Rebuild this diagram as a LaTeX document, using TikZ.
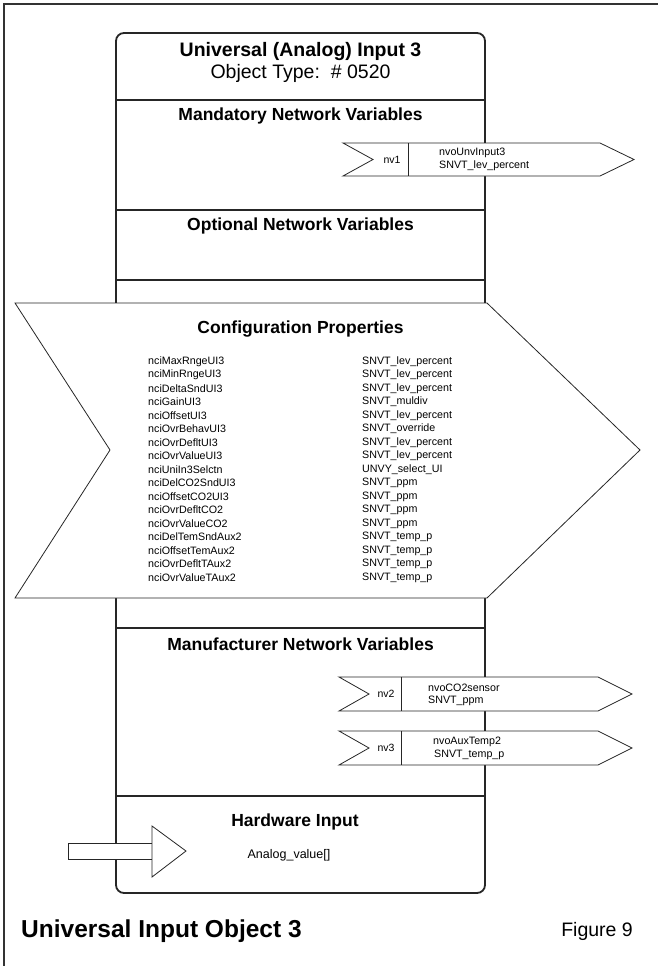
\documentclass[tikz,border=0pt]{standalone}
\usepackage{fontspec}
\setmainfont{Liberation Sans}
\begin{document}
\begin{tikzpicture}[x=1pt,y=-1pt,line join=miter]
\useasboundingbox (0,0) rectangle (658,966);
\tikzset{
  frameline/.style={draw=black!80, line width=1.8pt},
  boxline/.style={draw=black!85, line width=1.8pt},
  thinshape/.style={draw=black!85, line width=0.8pt, fill=white},
  titlefont/.style={font=\fontsize{19.5}{22}\selectfont\bfseries, inner sep=0},
  subfont/.style={font=\fontsize{19.5}{22}\selectfont, inner sep=0},
  sectitle/.style={font=\fontsize{17.5}{20}\selectfont\bfseries, inner sep=0},
  smalltext/.style={font=\fontsize{10.7}{12}\selectfont, inner sep=0, anchor=west},
  smallc/.style={font=\fontsize{10.5}{12}\selectfont, inner sep=0},
}
% outer frame
\draw[frameline] (4,966) -- (4,4) -- (658,4);
% main box
\draw[boxline, rounded corners=8pt] (116,33) rectangle (485,893);
\draw[boxline] (116,100) -- (485,100);
\draw[boxline] (116,210) -- (485,210);
\draw[boxline] (116,280) -- (485,280);
\draw[boxline] (116,628) -- (485,628);
\draw[boxline] (116,796) -- (485,796);

\node[titlefont] (title) at (300.5,52) {Universal (Analog) Input 3};
\node[subfont] (otype) at (300.5,73) {Object Type:\ \ \# 0520};

% mandatory
\node[sectitle] (mand) at (300.5,116) {Mandatory Network Variables};
\draw[thinshape] (343,143) -- (600,143) -- (634,159.5) -- (600,176) -- (343,176) -- (373,159.5) -- cycle;
\draw[thinshape] (408,143) -- (408,176);
\node[smallc] (nv1) at (392,159.5) {nv1};
\node[smalltext] (nv1a) at (439,152.5) {nvoUnvInput3};
\node[smalltext] (nv1b) at (439,165.5) {SNVT\_lev\_percent};

% optional
\node[sectitle] (opt) at (300.5,226) {Optional Network Variables};

% configuration
\draw[thinshape] (15,303) -- (487,303) -- (640,450) -- (487,598) -- (15,598) -- (110,450) -- cycle;
\node[sectitle] (conf) at (300.5,329) {Configuration Properties};
\foreach \a/\b [count=\i from 0] in {
  nciMaxRngeUI3/SNVT\_lev\_percent,
  nciMinRngeUI3/SNVT\_lev\_percent,
  nciDeltaSndUI3/SNVT\_lev\_percent,
  nciGainUI3/SNVT\_muldiv,
  nciOffsetUI3/SNVT\_lev\_percent,
  nciOvrBehavUI3/SNVT\_override,
  nciOvrDefltUI3/SNVT\_lev\_percent,
  nciOvrValueUI3/SNVT\_lev\_percent,
  nciUniIn3Selctn/UNVY\_select\_UI,
  nciDelCO2SndUI3/SNVT\_ppm,
  nciOffsetCO2UI3/SNVT\_ppm,
  nciOvrDefltCO2/SNVT\_ppm,
  nciOvrValueCO2/SNVT\_ppm,
  nciDelTemSndAux2/SNVT\_temp\_p,
  nciOffsetTemAux2/SNVT\_temp\_p,
  nciOvrDefltTAux2/SNVT\_temp\_p,
  nciOvrValueTAux2/SNVT\_temp\_p}{
  \pgfmathsetmacro\yy{361.5+13.5*\i}
  \node[smalltext] (cpn\i) at (148,\yy) {\a};
  \node[smalltext] (cpt\i) at (362,\yy) {\b};
}

% manufacturer
\node[sectitle] (manu) at (300.5,644) {Manufacturer Network Variables};
\draw[thinshape] (339,677) -- (598,677) -- (632,694) -- (598,711) -- (339,711) -- (369,694) -- cycle;
\draw[thinshape] (401,677) -- (401,711);
\node[smallc] (nv2) at (386,694) {nv2};
\node[smalltext] (nv2a) at (428,687.5) {nvoCO2sensor};
\node[smalltext] (nv2b) at (428,700.5) {SNVT\_ppm};

\draw[thinshape] (339,731) -- (598,731) -- (632,748) -- (598,765) -- (339,765) -- (369,748) -- cycle;
\draw[thinshape] (401,731) -- (401,765);
\node[smallc] (nv3) at (386,748) {nv3};
\node[smalltext] (nv3a) at (433,741.5) {nvoAuxTemp2};
\node[smalltext] (nv3b) at (434,754.5) {SNVT\_temp\_p};

% hardware
\node[sectitle] (hw) at (295,822) {Hardware Input};
\node[font=\fontsize{12.5}{14}\selectfont, inner sep=0] (av) at (289,855) {Analog\_value[]};
\draw[thinshape] (68,843) rectangle (152,859);
\draw[thinshape] (152,826) -- (186,851) -- (152,877) -- cycle;

% footer
\node[font=\fontsize{24.5}{27}\selectfont\bfseries, inner sep=0, anchor=west] (foot) at (21,931) {Universal Input Object 3};
\node[font=\fontsize{19.5}{22}\selectfont, inner sep=0, anchor=east] (fig) at (633,931) {Figure 9};
\end{tikzpicture}
\end{document}
